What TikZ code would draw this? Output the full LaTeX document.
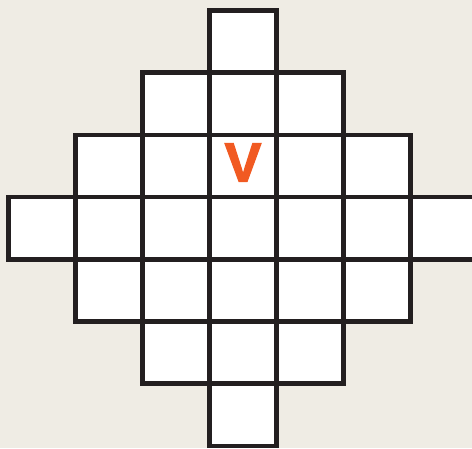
\documentclass[tikz,border=0pt]{standalone}
\usepackage{fontspec}
\setmainfont{Liberation Sans}
\newfontfamily\heavyfont[FakeBold=2.2]{Liberation Sans Bold}
\definecolor{bg}{HTML}{EFECE4}
\definecolor{ink}{HTML}{231F20}
\definecolor{vorange}{HTML}{F15A22}
\begin{document}
\begin{tikzpicture}[x=1pt,y=-1pt,
  cellfill/.style={fill=white},
  celledge/.style={draw=ink,line width=4.5pt},
  letter/.style={text=vorange,inner sep=0pt,font=\heavyfont\fontsize{55}{55}\selectfont}]
\useasboundingbox (0,0) rectangle (472,448);
\clip (0,0) rectangle (472,448);
\fill[bg] (0,0) rectangle (472,448);
\foreach \r in {0,...,6}{
  \foreach \c in {0,...,6}{
    \pgfmathtruncatemacro\d{abs(\c-3)+abs(\r-3)}
    \ifnum\d<4
      \path[cellfill] ({8.5+67*\c},{10.5+62.2*\r}) rectangle ({8.5+67*(\c+1)},{10.5+62.2*(\r+1)});
    \fi
  }
}
\foreach \r in {0,...,6}{
  \foreach \c in {0,...,6}{
    \pgfmathtruncatemacro\d{abs(\c-3)+abs(\r-3)}
    \ifnum\d<4
      \path[celledge] ({8.5+67*\c},{10.5+62.2*\r}) rectangle ({8.5+67*(\c+1)},{10.5+62.2*(\r+1)});
    \fi
  }
}
\node[letter] (v) at (243,162.5) {V};
\end{tikzpicture}
\end{document}
